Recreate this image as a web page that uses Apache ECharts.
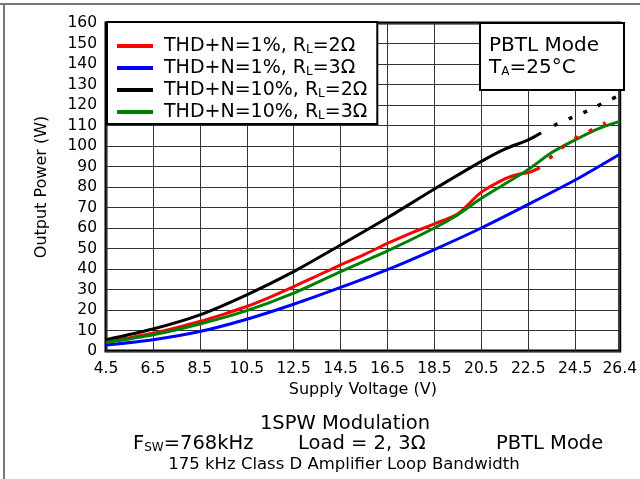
<!DOCTYPE html>
<html>
<head>
<meta charset="utf-8">
<script src="https://cdn.jsdelivr.net/npm/echarts@6/dist/echarts.min.js"></script>
<style>
  html, body { margin: 0; padding: 0; background: #fff; }
  #main { width: 640px; height: 479px; }
</style>
</head>
<body>
<div id="main"></div>
<script>
// x axis starts at 4.5 V, data shifted so ticks land on 4.5, 6.5, ...
const xStart = 4.5
const xEnd = 26.4

// THD+N=1%, RL=2Ω
const red1V = [4.5, 5.5, 6.5, 7.5, 8.5, 9.5, 10.5, 11.5, 12.5, 13.5, 14.5, 15.5, 16.5, 17.5, 18.5, 19.5, 20.5, 21.5, 22, 22.5, 23]
const red1P = [4.5, 6.5, 8.7, 11.4, 14.4, 17.9, 21.7, 26.3, 31.4, 36.7, 42, 47, 52.5, 57.5, 62, 67, 77.5, 84, 86, 87, 89.5]
const red1DotV = [23.4, 23.7, 24.3, 25, 25.8]
const red1DotP = [94, 96.8, 102.4, 106.6, 111.3]

// THD+N=1%, RL=3Ω
const blue1V = [4.5, 6.5, 8.5, 10.5, 12.5, 14.5, 16.5, 18.5, 20.5, 22.5, 24.5, 26.4]
const blue1P = [2.9, 5.5, 9.5, 15.5, 22.8, 31, 39.7, 49.5, 60, 71.5, 83.4, 96]

// THD+N=10%, RL=2Ω
const black10V = [4.5, 6.5, 8.5, 10.5, 12.5, 14.5, 16.5, 18.5, 20.5, 21.5, 22.5, 23.05]
const black10P = [5.5, 10.7, 17.6, 27.4, 38.7, 51.7, 65, 79, 92.5, 98.5, 103, 106.4]
const black10DotV = [23.6, 24.46, 25.2, 25.9, 26.4]
const black10DotP = [110, 114.4, 118, 122.2, 124.5]

// THD+N=10%, RL=3Ω
const green10V = [4.5, 6.5, 8.5, 10.5, 12.5, 14.5, 16.5, 18.5, 19.5, 20.5, 21.5, 22.5, 23.5, 24.5, 25.5, 26.4]
const green10P = [4.1, 7.9, 13.2, 19.7, 28.2, 38.7, 48.8, 60, 66.5, 74.5, 81.5, 88.5, 96.8, 103, 108.5, 112]

const names = ['THD+N=1%, RL=2Ω', 'THD+N=1%, RL=3Ω', 'THD+N=10%, RL=2Ω', 'THD+N=10%, RL=3Ω']
const colors = ['#ff0000', '#0000ff', '#000000', '#008000']

const toPts = (vs, ps) => vs.map((v, i) => [v - xStart, ps[i]])

const font = 'DejaVu Sans, sans-serif'

const chart = echarts.init(document.getElementById('main'))

const solid = (name, color, vs, ps) => ({
  name, type: 'line', data: toPts(vs, ps), smooth: 0.25, showSymbol: false,
  lineStyle: { color, width: 3 }, itemStyle: { color }, z: 3
})
const dotted = (name, color, vs, ps) => ({
  name, type: 'line', data: toPts(vs, ps), smooth: 0.2, showSymbol: false,
  lineStyle: { color, width: 3.5, type: [4, 12] }, itemStyle: { color }, z: 3
})

const sub = { fontFamily: font, fontSize: 12, color: '#000', padding: [8, 0, 0, 0] }

const option = {
  animation: false,
  backgroundColor: '#fff',
  grid: {
    left: 106, right: 17, top: 23, bottom: 128,
    show: true, borderColor: '#000', borderWidth: 3
  },
  legend: {
    data: names,
    orient: 'vertical',
    left: 107, top: 22,
    padding: [13, 10, 1, 10],
    itemGap: 0,
    itemWidth: 36, itemHeight: 4,
    icon: 'rect',
    backgroundColor: '#fff',
    borderColor: '#000', borderWidth: 2,
    formatter: n => n.replace('RL', 'R{s|L}'),
    textStyle: {
      fontFamily: font, fontSize: 19, lineHeight: 22, color: '#000', padding: [0, 0, 0, 6],
      rich: { s: sub }
    }
  },
  xAxis: {
    type: 'value', min: 0, max: xEnd - xStart, interval: 2,
    name: 'Supply Voltage (V)', nameLocation: 'middle', nameGap: 30,
    nameTextStyle: { fontFamily: font, fontSize: 16, color: '#000' },
    axisLine: { show: false }, axisTick: { show: false },
    axisLabel: {
      fontFamily: font, fontSize: 15.5, color: '#000', margin: 10,
      formatter: v => (v + xStart).toFixed(1)
    },
    splitLine: { lineStyle: { color: '#333', width: 1 } }
  },
  yAxis: {
    type: 'value', min: 0, max: 160, interval: 10,
    name: 'Output Power (W)', nameLocation: 'middle', nameGap: 56,
    nameTextStyle: { fontFamily: font, fontSize: 16, color: '#000' },
    axisLine: { show: false }, axisTick: { show: false },
    axisLabel: { fontFamily: font, fontSize: 15.5, color: '#000', margin: 9 },
    splitLine: { lineStyle: { color: '#333', width: 1 } }
  },
  series: [
    solid(names[0], colors[0], red1V, red1P),
    solid(names[1], colors[1], blue1V, blue1P),
    solid(names[2], colors[2], black10V, black10P),
    solid(names[3], colors[3], green10V, green10P),
    dotted(names[0], colors[0], red1DotV, red1DotP),
    dotted(names[2], colors[2], black10DotV, black10DotP)
  ],
  graphic: [
    { type: 'line', shape: { x1: 0, y1: 4, x2: 640, y2: 4 }, style: { stroke: '#777', lineWidth: 2 } },
    { type: 'line', shape: { x1: 4, y1: 4, x2: 4, y2: 479 }, style: { stroke: '#777', lineWidth: 2 } },
    {
      type: 'rect', left: 479, top: 22, z: 10,
      shape: { width: 144, height: 67 },
      style: { fill: '#fff', stroke: '#000', lineWidth: 2 }
    },
    {
      type: 'text', left: 489, top: 36, z: 11,
      style: { text: 'PBTL Mode', font: '20px ' + font, fill: '#000' }
    },
    {
      type: 'text', left: 489, top: 58, z: 11,
      style: { text: 'T{s|A}=25°C', font: '20px ' + font, fill: '#000', rich: { s: sub } }
    },
    {
      type: 'text', x: 345, y: 414,
      style: { text: '1SPW Modulation', font: '19.5px ' + font, fill: '#000', align: 'center' }
    },
    {
      type: 'text', left: 133, top: 434,
      style: { text: 'F{s|SW}=768kHz', font: '19.5px ' + font, fill: '#000', rich: { s: sub } }
    },
    {
      type: 'text', left: 298, top: 434,
      style: { text: 'Load = 2, 3Ω', font: '19.5px ' + font, fill: '#000' }
    },
    {
      type: 'text', left: 496, top: 434,
      style: { text: 'PBTL Mode', font: '19.5px ' + font, fill: '#000' }
    },
    {
      type: 'text', x: 344, y: 456,
      style: { text: '175 kHz Class D Amplifier Loop Bandwidth', font: '16.5px ' + font, fill: '#000', align: 'center' }
    }
  ]
}
option && chart.setOption(option)
</script>
</body>
</html>
